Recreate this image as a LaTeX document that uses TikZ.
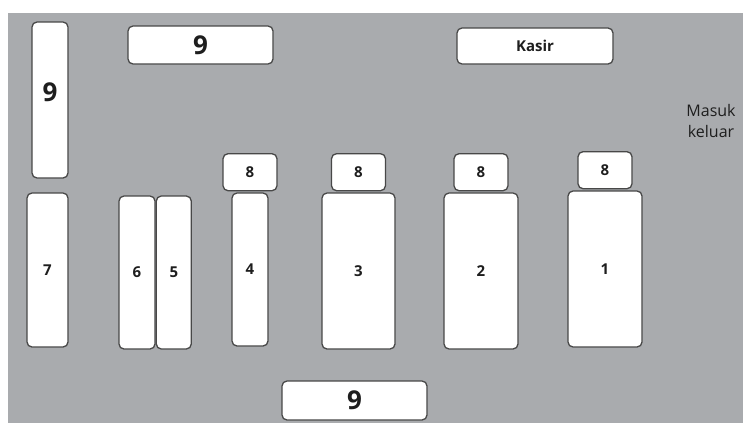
\documentclass[tikz,border=0pt]{standalone}
\usepackage{fontspec}
\setmainfont{Open Sans}
\usetikzlibrary{positioning}
\definecolor{floor}{RGB}{169, 171, 174}
\definecolor{edge}{RGB}{72, 72, 72}
\definecolor{ink}{RGB}{30, 30, 30}

\begin{document}
\begin{tikzpicture}[x=1pt, y=-1pt,
            shelf/.style={draw=edge, line width=1.3pt, fill=white, rounded corners=5pt, inner sep=0pt, text=ink, font=\fontsize{15}{18}\selectfont\bfseries},
            bignum/.style={shelf, font=\fontsize{26}{30}\selectfont\bfseries},
            topbox/.style={shelf, minimum width=54pt, minimum height=37pt}
        ]
            \useasboundingbox (0,0) rectangle (743,423);
            % Floor
            \fill[floor] (8,13) rectangle (743,423);

            % Big shelves
            \node[bignum, minimum width=36pt, minimum height=156pt, text depth=16pt] (nineleft) at (50,100) {9};
            \node[bignum, minimum width=145pt, minimum height=38pt] (ninetop) at (200.5,45) {9};
            \node[bignum, minimum width=145pt, minimum height=39pt] (ninebottom) at (354.5,400.5) {9};

            % Cashier
            \node[shelf, minimum width=156pt, minimum height=36pt] (kasir) at (535,46) {Kasir};
            \node[align=center, text=ink, font=\fontsize{16}{21}\selectfont] (pintu) at (711,121) {Masuk\\keluar};

            % Racks
            \node[shelf, minimum width=41pt, minimum height=154pt] (rack7) at (47.5,270) {7};
            \node[shelf, minimum width=36pt, minimum height=153pt] (rack6) at (137,272.5) {6};
            \node[shelf, minimum width=35pt, minimum height=153pt, right=0pt of rack6] (rack5) {5};
            \node[shelf, minimum width=36pt, minimum height=153pt] (rack4) at (250,269.5) {4};
            \node[shelf, minimum width=73pt, minimum height=156pt] (rack3) at (358.5,271) {3};
            \node[shelf, minimum width=74pt, minimum height=156pt] (rack2) at (481,271) {2};
            \node[shelf, minimum width=74pt, minimum height=156pt] (rack1) at (605,269) {1};

            % Small shelves
            \node[topbox, above=1pt of rack4] (top4) {8};
            \node[topbox, above=1pt of rack3] (top3) {8};
            \node[topbox, above=1pt of rack2] (top2) {8};
            \node[topbox, above=1pt of rack1] (top1) {8};

        \end{tikzpicture}
\end{document}
